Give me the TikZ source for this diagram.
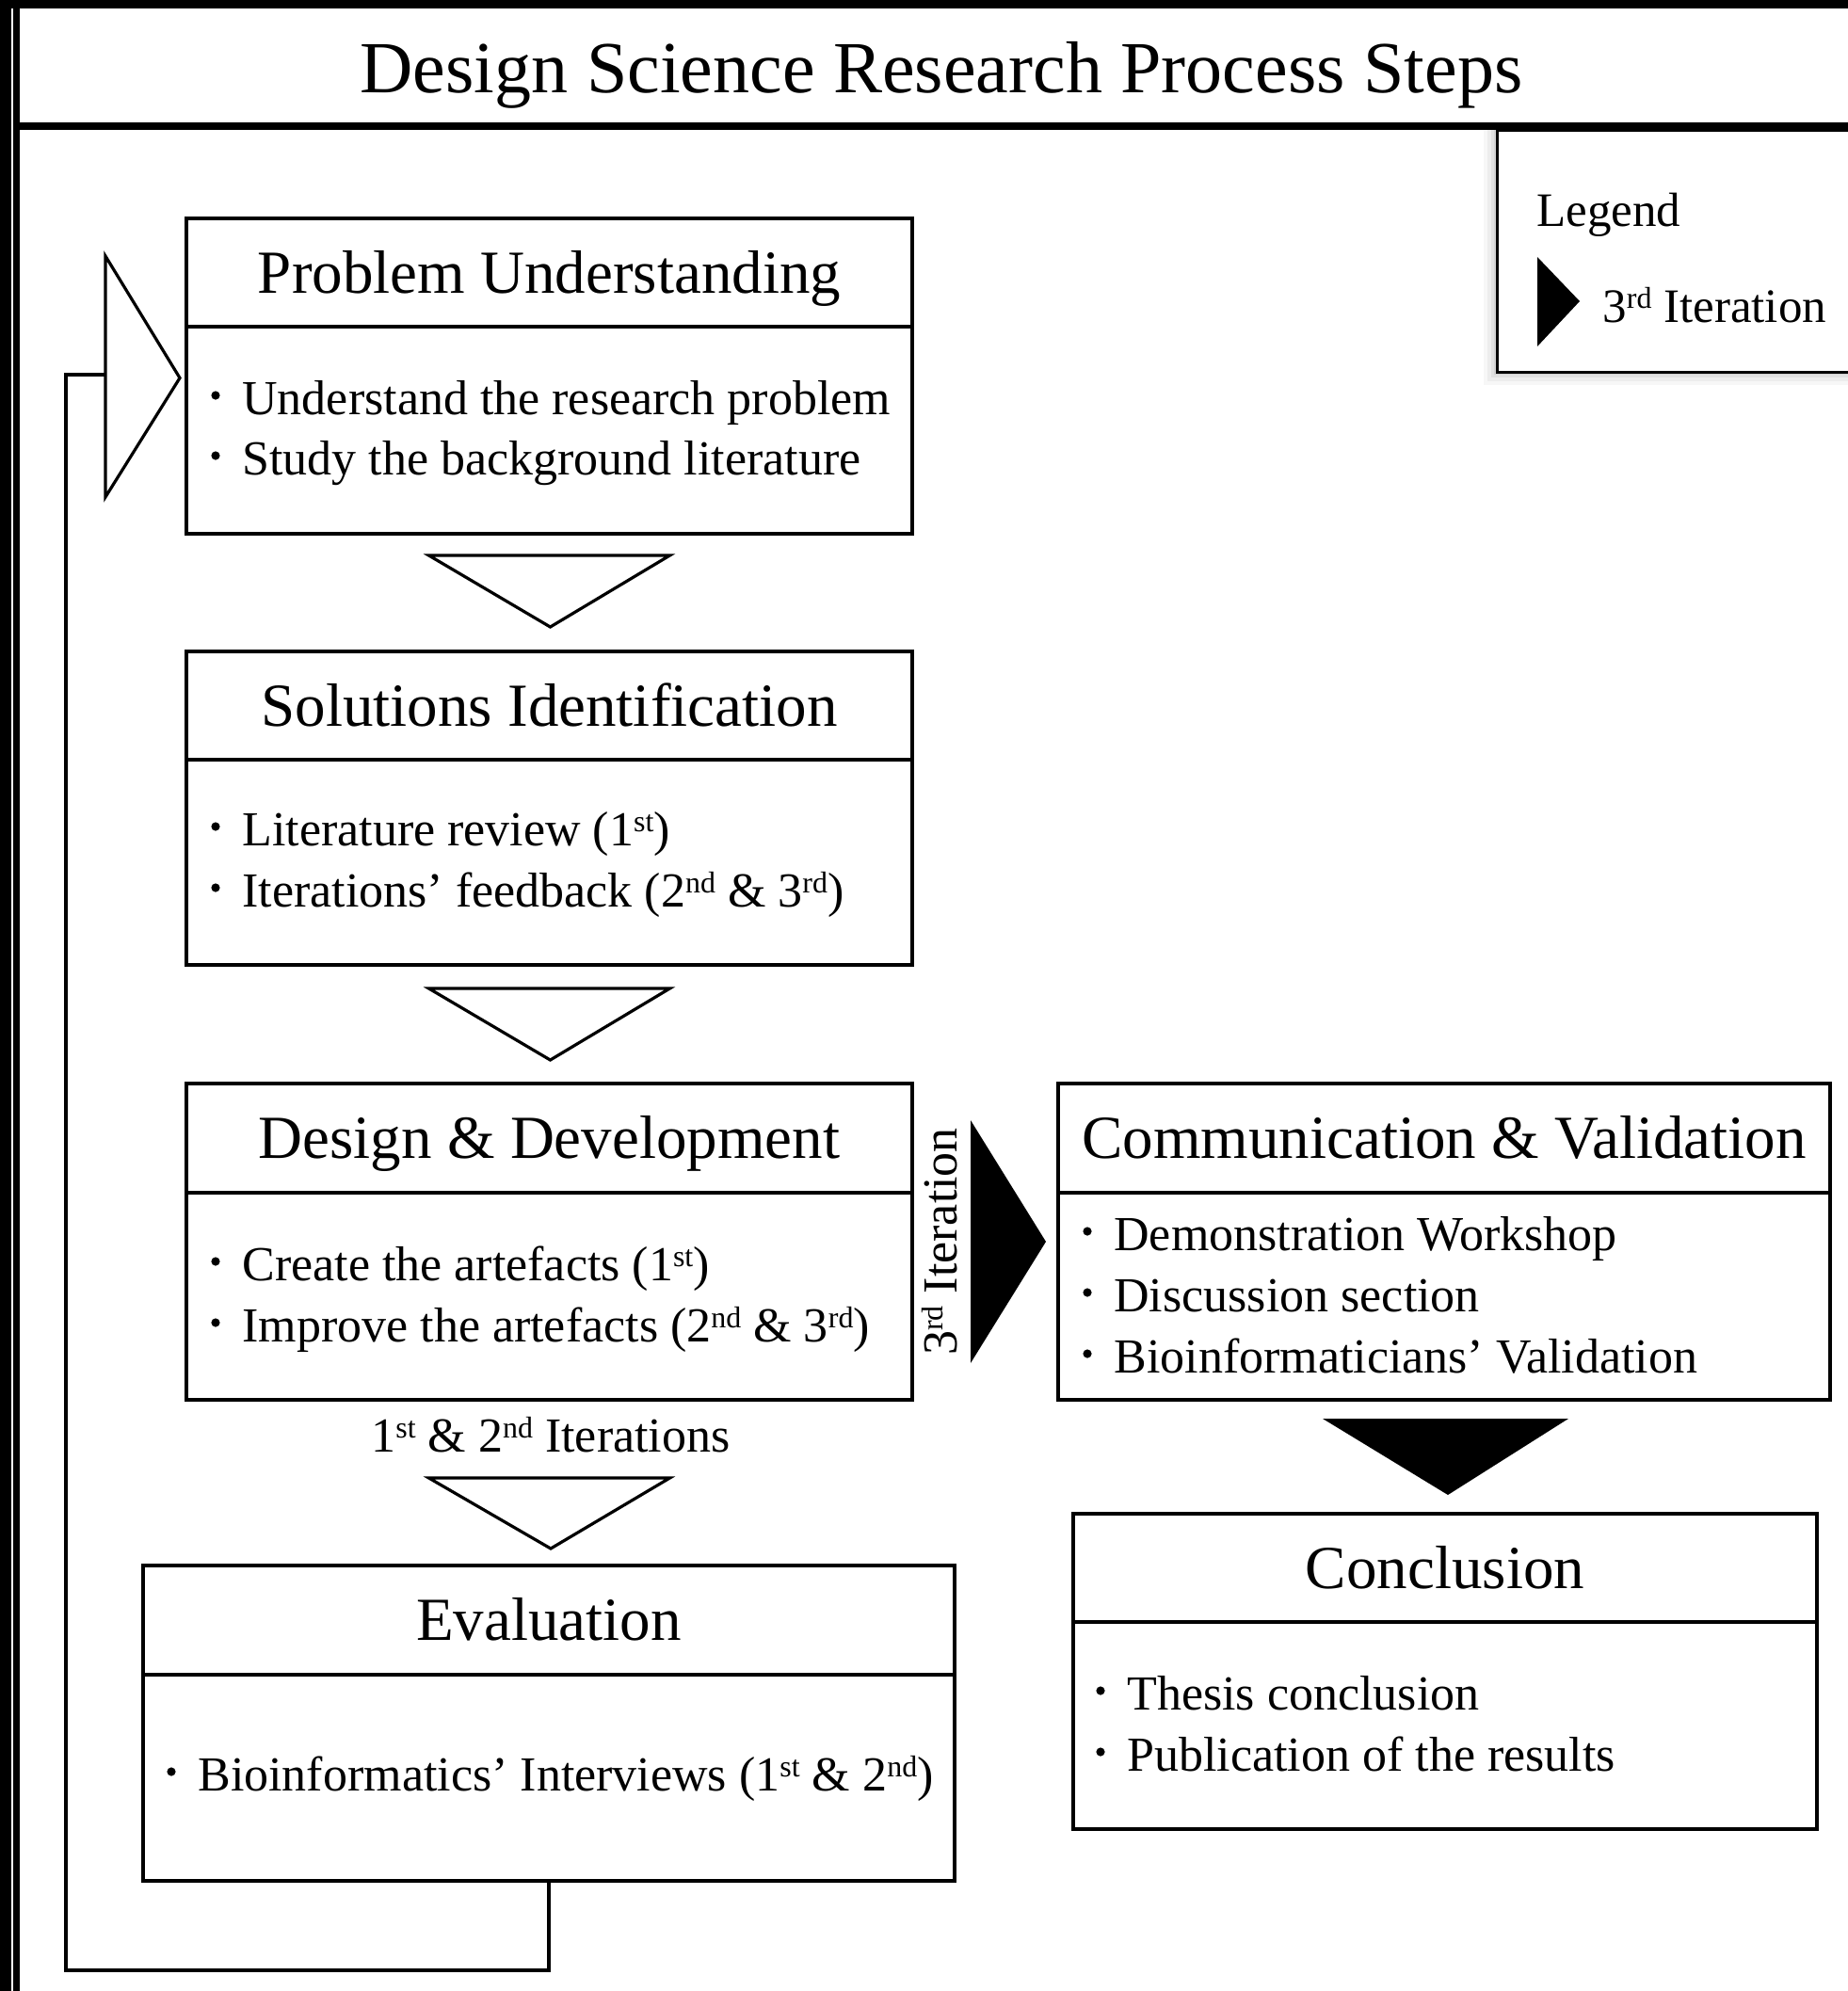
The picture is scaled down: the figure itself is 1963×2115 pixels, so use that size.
\documentclass[tikz,border=0pt]{standalone}
\usepackage{fontspec}
\setmainfont{Liberation Serif}
\usetikzlibrary{fit,calc}
\newcommand{\supx}[1]{\raisebox{7.5pt}{\fontsize{16}{18}\selectfont #1}}
\begin{document}
\begin{tikzpicture}[x=0.5pt,y=-0.5pt,
  box/.style={draw, line width=2pt, inner sep=0pt},
  sepline/.style={line width=2pt},
  ttl/.style={anchor=base, font=\fontsize{32.5}{39}\selectfont, inner sep=0pt},
  item/.style={anchor=base west, font=\fontsize{26}{31}\selectfont, inner sep=0pt},
  lbl/.style={font=\fontsize{26}{31}\selectfont, inner sep=0pt},
  openarrow/.style={draw, line width=1.6pt, fill=white, line join=miter},
  solidarrow/.style={fill=black},
  link/.style={draw, line width=2pt, line join=miter}]
\fill[white] (0,0) rectangle (1963,2115);
\useasboundingbox (0,0) rectangle (1963,2115);
% frame
\fill[black] (0,0) rectangle (1963,9);
\fill[black] (0,0) rectangle (12,2115);
\fill[black] (14,0) rectangle (21,2115);
% legend shadow
\foreach \d/\o in {14/0.03,10/0.04,6/0.05,3/0.06}
  \fill[black, opacity=\o] (1590-\d,138) rectangle (1963,395+\d);
\fill[black] (14,130) rectangle (1963,138);
\node[anchor=base, font=\fontsize{39}{47}\selectfont, inner sep=0pt] (title) at (1000,98) {Design Science Research Process Steps};
% legend
\node[fit={(1590,138)(1985,395)}, draw, line width=1.5pt, fill=white, inner sep=0pt] (legend) {};
\node[anchor=base west, font=\fontsize{25.5}{30}\selectfont, inner sep=0pt] (legtitle) at (1632,240) {Legend};
\fill[black] (1633,273) -- (1633,368) -- (1678,320) -- cycle;
\node[anchor=base west, font=\fontsize{25.5}{30}\selectfont, inner sep=0pt] (legitem) at (1702,342) {3\supx{rd} Iteration};

% Problem Understanding
\node[box, fit={(198,232)(969,567)}] (pu) {};
\draw[sepline] (pu.west |- 0,347) -- (pu.east |- 0,347);
\node[ttl] (puT) at (583.5,311) {Problem Understanding};
\fill (229,420) circle (4.6); \node[item] (pu1) at (257,440) {Understand the research problem};
\fill (229,484) circle (4.6); \node[item] (pu2) at (257,504) {Study the background literature};

% Solutions Identification
\node[box, fit={(198,692)(969,1025)}] (si) {};
\draw[sepline] (si.west |- 0,807) -- (si.east |- 0,807);
\node[ttl] (siT) at (583.5,771) {Solutions Identification};
\fill (229,878) circle (4.6); \node[item] (si1) at (257,898) {Literature review (1\supx{st})};
\fill (229,943) circle (4.6); \node[item] (si2) at (257,963) {Iterations’ feedback (2\supx{nd} \& 3\supx{rd})};

% Design & Development
\node[box, fit={(198,1151)(969,1487)}] (dd) {};
\draw[sepline] (dd.west |- 0,1267) -- (dd.east |- 0,1267);
\node[ttl] (ddT) at (583.5,1230) {Design \& Development};
\fill (229,1340) circle (4.6); \node[item] (dd1) at (257,1360) {Create the artefacts (1\supx{st})};
\fill (229,1405) circle (4.6); \node[item] (dd2) at (257,1425) {Improve the artefacts (2\supx{nd} \& 3\supx{rd})};

% Evaluation
\node[box, fit={(152,1663)(1014,1998)}] (ev) {};
\draw[sepline] (ev.west |- 0,1779) -- (ev.east |- 0,1779);
\node[ttl] (evT) at (583,1742) {Evaluation};
\fill (182,1882) circle (4.6); \node[item] (ev1) at (210,1902) {Bioinformatics’ Interviews (1\supx{st} \& 2\supx{nd})};

% Communication & Validation
\node[box, fit={(1124,1151)(1944,1487)}] (cv) {};
\draw[sepline] (cv.west |- 0,1267) -- (cv.east |- 0,1267);
\node[ttl] (cvT) at (1534,1230) {Communication \& Validation};
\fill (1155,1308) circle (4.6); \node[item] (cv1) at (1183,1328) {Demonstration Workshop};
\fill (1155,1373) circle (4.6); \node[item] (cv2) at (1183,1393) {Discussion section};
\fill (1155,1438) circle (4.6); \node[item] (cv3) at (1183,1458) {Bioinformaticians’ Validation};

% Conclusion
\node[box, fit={(1140,1608)(1930,1943)}] (co) {};
\draw[sepline] (co.west |- 0,1723) -- (co.east |- 0,1723);
\node[ttl] (coT) at (1535,1687) {Conclusion};
\fill (1169,1796) circle (4.6); \node[item] (co1) at (1197,1816) {Thesis conclusion};
\fill (1169,1861) circle (4.6); \node[item] (co2) at (1197,1881) {Publication of the results};

% arrows between steps
\draw[openarrow] ($(pu.south)+(-128,21)$) -- ++(256,0) -- ($(si.north)+(1,-24)$) -- cycle;
\draw[openarrow] ($(si.south)+(-128,23)$) -- ++(256,0) -- ($(dd.north)+(1,-23)$) -- cycle;
\node[lbl, anchor=base] (iterlbl) at (585,1542) {1\supx{st} \& 2\supx{nd} Iterations};
\draw[openarrow] ($(dd.south)+(-128,81)$) -- ++(256,0) -- ($(ev.north)+(2,-16)$) -- cycle;
\fill[solidarrow] ($(dd.east)+(60,-129)$) -- ($(dd.east)+(60,129)$) -- ($(cv.west)+(-11,0)$) -- cycle;
\node[lbl, anchor=base, rotate=90] (thirdlbl) at (1016,1319) {3\supx{rd} Iteration};
\fill[solidarrow] ($(cv.south)+(-129,18)$) -- ++(261,0) -- ($(co.north)+(3,-18)$) -- cycle;

% feedback loop
\coordinate (loopin) at (112,398);
\draw[link] (ev.south) -- (ev.south |- 0,2093) -- (70,2093) -- (70,398) -- (loopin);
\draw[openarrow] (112,272) -- (112,528) -- ($(pu.west)+(-5,2)$) -- cycle;
\end{tikzpicture}
\end{document}
